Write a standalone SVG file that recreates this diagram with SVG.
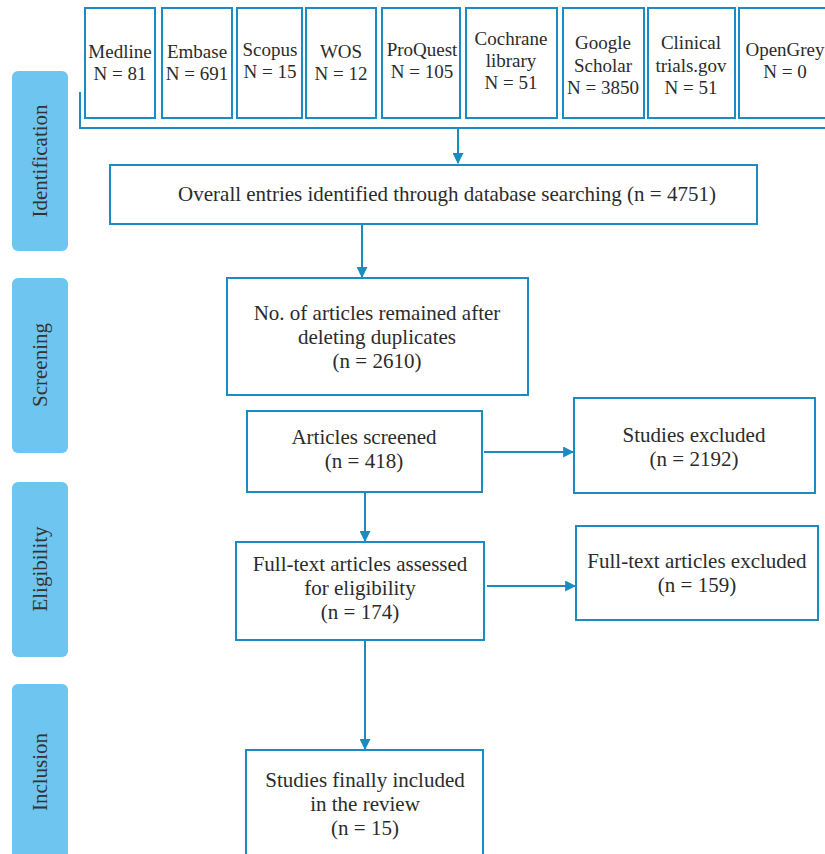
<svg xmlns="http://www.w3.org/2000/svg" width="825" height="854" viewBox="0 0 825 854">
<defs>
<style>
.box{fill:#fff;stroke:#1a8cc2;stroke-width:2}
.lbl{fill:#6ec6f0}
text{font-family:'Liberation Serif','DejaVu Serif','Times New Roman',serif}
.s{font-size:19px;fill:#2b2b2b;text-anchor:middle}
.t{font-size:21px;fill:#2b2b2b;text-anchor:middle}
.st{font-size:21px;fill:#333;text-anchor:middle}
.c{fill:none;stroke:#1a8cc2;stroke-width:2}
</style>
<marker id="ah" viewBox="0 0 10 10" refX="9" refY="5" markerWidth="11" markerHeight="11" markerUnits="userSpaceOnUse" orient="auto"><path d="M0,0 L10,5 L0,10 z" fill="#1a8cc2"/></marker>
</defs>
<rect width="825" height="854" fill="#fff"/>
<g id="stages">
<g id="stage-identification"><rect class="lbl" x="12" y="71" width="56" height="180" rx="6"/><text class="st" transform="translate(47,161) rotate(-90)">Identification</text></g>
<g id="stage-screening"><rect class="lbl" x="12" y="278" width="56" height="175" rx="6"/><text class="st" transform="translate(47,365) rotate(-90)">Screening</text></g>
<g id="stage-eligibility"><rect class="lbl" x="12" y="482" width="56" height="175" rx="6"/><text class="st" transform="translate(47,569) rotate(-90)">Eligibility</text></g>
<g id="stage-inclusion"><rect class="lbl" x="12" y="684" width="56" height="180" rx="6"/><text class="st" transform="translate(47,772) rotate(-90)">Inclusion</text></g>
</g>
<g id="sources">
<g id="medline"><rect class="box" x="85" y="8" width="70" height="110"/><text class="s" x="120" y="58">Medline</text><text class="s" x="120" y="80">N = 81</text></g>
<g id="embase"><rect class="box" x="162" y="8" width="70" height="110"/><text class="s" x="197" y="58">Embase</text><text class="s" x="197" y="80">N = 691</text></g>
<g id="scopus"><rect class="box" x="237" y="8" width="65" height="110"/><text class="s" x="270" y="56">Scopus</text><text class="s" x="270" y="78">N = 15</text></g>
<g id="wos"><rect class="box" x="306" y="8" width="70" height="110"/><text class="s" x="341" y="58">WOS</text><text class="s" x="341" y="80">N = 12</text></g>
<g id="proquest"><rect class="box" x="382" y="8" width="78" height="110"/><text class="s" x="422" y="56">ProQuest</text><text class="s" x="422" y="78">N = 105</text></g>
<g id="cochrane"><rect class="box" x="466" y="8" width="91" height="110"/><text class="s" x="511" y="45">Cochrane</text><text class="s" x="511" y="67">library</text><text class="s" x="511" y="89">N = 51</text></g>
<g id="google"><rect class="box" x="563" y="8" width="81" height="110"/><text class="s" x="603" y="49">Google</text><text class="s" x="603" y="72">Scholar</text><text class="s" x="603" y="94">N = 3850</text></g>
<g id="clinical"><rect class="box" x="648" y="8" width="87" height="110"/><text class="s" x="691" y="49">Clinical</text><text class="s" x="691" y="72">trials.gov</text><text class="s" x="691" y="94">N = 51</text></g>
<g id="opengrey"><rect class="box" x="739" y="8" width="92" height="110"/><text class="s" x="785" y="56">OpenGrey</text><text class="s" x="785" y="78">N = 0</text></g>
</g>
<g id="overall"><rect class="box" x="110" y="165" width="647" height="59"/><text class="t" x="447" y="201">Overall entries identified through database searching (n = 4751)</text></g>
<g id="dedup"><rect class="box" x="227" y="278" width="301" height="117"/><text class="t" x="377" y="320">No. of articles remained after</text><text class="t" x="377" y="344">deleting duplicates</text><text class="t" x="377" y="368">(n = 2610)</text></g>
<g id="screened"><rect class="box" x="247" y="411" width="235" height="81"/><text class="t" x="364" y="444">Articles screened</text><text class="t" x="364" y="468">(n = 418)</text></g>
<g id="excluded1"><rect class="box" x="574" y="398" width="241" height="95"/><text class="t" x="694" y="442">Studies excluded</text><text class="t" x="694" y="466">(n = 2192)</text></g>
<g id="fulltext"><rect class="box" x="236" y="542" width="248" height="98"/><text class="t" x="360" y="571">Full-text articles assessed</text><text class="t" x="360" y="595">for eligibility</text><text class="t" x="360" y="619">(n = 174)</text></g>
<g id="excluded2"><rect class="box" x="576" y="526" width="242" height="94"/><text class="t" x="697" y="568">Full-text articles excluded</text><text class="t" x="697" y="592">(n = 159)</text></g>
<g id="included"><rect class="box" x="246" y="750" width="237" height="115"/><text class="t" x="365" y="787">Studies finally included</text><text class="t" x="365" y="811">in the review</text><text class="t" x="365" y="835">(n = 15)</text></g>
<g id="connectors">
<path class="c" d="M80,92 V128 H826"/>
<path class="c" d="M458,128 V163" marker-end="url(#ah)"/>
<path class="c" d="M362,224 V277" marker-end="url(#ah)"/>
<path class="c" d="M484,452 H573" marker-end="url(#ah)"/>
<path class="c" d="M365,492 V541" marker-end="url(#ah)"/>
<path class="c" d="M487,586 H575" marker-end="url(#ah)"/>
<path class="c" d="M365,640 V749" marker-end="url(#ah)"/>
</g>
</svg>
